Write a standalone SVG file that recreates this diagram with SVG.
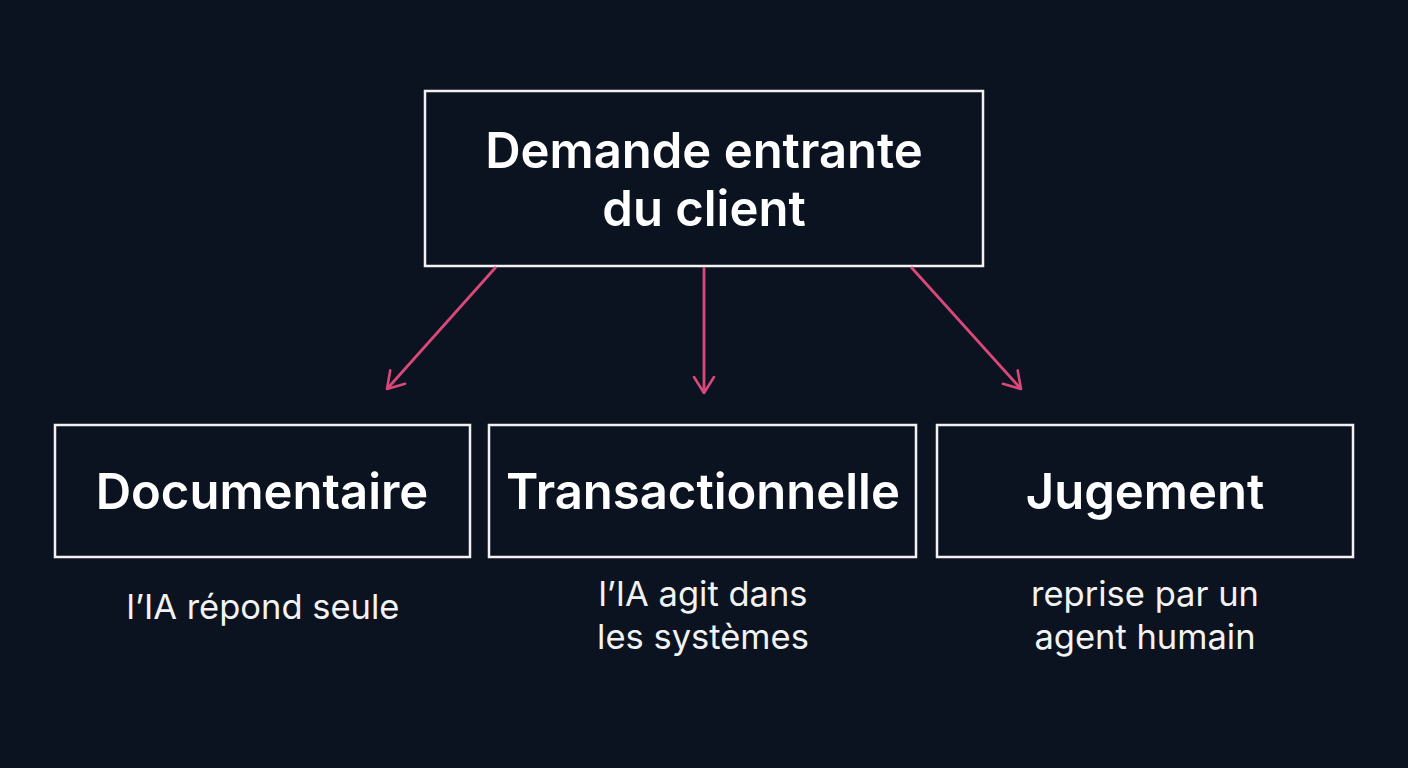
<svg xmlns="http://www.w3.org/2000/svg" width="1408" height="768" viewBox="0 0 1408 768">
<defs>
<marker id="ah" viewBox="0 0 24 24" refX="21" refY="12" markerWidth="24" markerHeight="24" markerUnits="userSpaceOnUse" orient="auto">
<path d="M5 2 L21 12 L5 22" fill="none" stroke="#d9487a" stroke-width="2.6" stroke-linecap="round" stroke-linejoin="round"/>
</marker>
<style>
.box{fill:none;stroke:#f2f2f2;stroke-width:2.5}
.t{font-family:Inter,"Liberation Sans",sans-serif;fill:#ffffff;text-anchor:middle;font-weight:600}
.s{font-family:Inter,"Liberation Sans",sans-serif;fill:#f2f2f2;text-anchor:middle;font-size:34.5px}
.c{stroke:#d9487a;stroke-width:2.8;fill:none;marker-end:url(#ah)}
</style>
</defs>
<rect width="1408" height="768" fill="#0b1220"/>
<g id="n-top"><rect class="box" x="425" y="91" width="558" height="175"/>
<text class="t" x="704" y="168" font-size="49">Demande entrante</text>
<text class="t" x="704" y="226" font-size="49">du client</text></g>
<g id="n-doc"><rect class="box" x="55" y="425" width="415" height="132"/>
<text class="t" x="262" y="509" font-size="49">Documentaire</text>
<text class="s" x="263" y="619">l’IA répond seule</text></g>
<g id="n-trans"><rect class="box" x="489" y="425" width="427" height="132"/>
<text class="t" x="703" y="509" font-size="49">Transactionnelle</text>
<text class="s" x="703" y="606">l’IA agit dans</text>
<text class="s" x="703" y="649">les systèmes</text></g>
<g id="n-jug"><rect class="box" x="937" y="425" width="416" height="132"/>
<text class="t" x="1145" y="509" font-size="49">Jugement</text>
<text class="s" x="1145" y="606">reprise par un</text>
<text class="s" x="1145" y="649">agent humain</text></g>
<g id="connectors">
<line class="c" x1="496" y1="267" x2="387" y2="389"/>
<line class="c" x1="704" y1="267" x2="704" y2="393"/>
<line class="c" x1="911" y1="267" x2="1021" y2="389"/>
</g>
</svg>
